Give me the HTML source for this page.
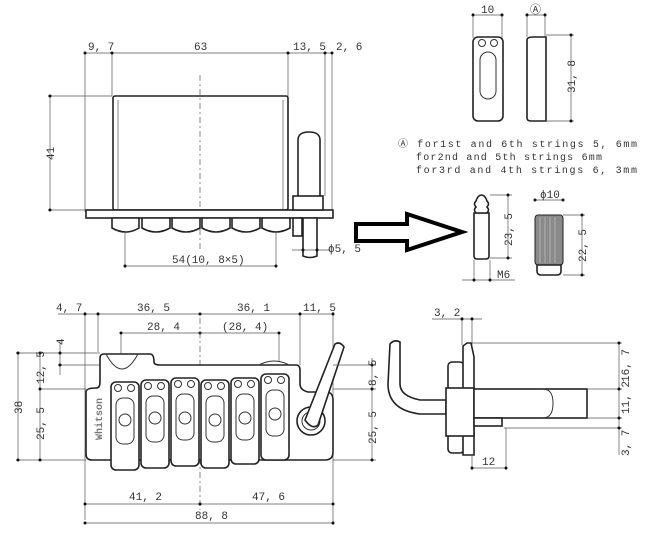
<!DOCTYPE html>
<html><head><meta charset="utf-8"><style>
html,body{margin:0;padding:0;background:#fff}
svg{display:block}
text{font-family:"Liberation Mono",monospace;font-size:11px;fill:#333}
.l{stroke:#333;stroke-width:1;fill:none}
.t{stroke:#555;stroke-width:.7;fill:none}
.b{stroke:#222;stroke-width:1.6;fill:#fff}
.d{fill:#111}
</style></head><body>
<svg width="646" height="539" viewBox="0 0 646 539">
<!-- TOP VIEW -->
<g>
<line class="t" x1="85" y1="53" x2="332" y2="53"/>
<line class="t" x1="85" y1="53" x2="85" y2="212"/>
<line class="t" x1="112" y1="53" x2="112" y2="96"/>
<line class="t" x1="288" y1="53" x2="288" y2="96"/>
<line class="t" x1="325" y1="53" x2="325" y2="196"/>
<line class="t" x1="332" y1="53" x2="332" y2="212"/>
<circle class="d" cx="85" cy="53" r="1.5"/><circle class="d" cx="112" cy="53" r="1.5"/><circle class="d" cx="288" cy="53" r="1.5"/><circle class="d" cx="325" cy="53" r="1.5"/><circle class="d" cx="332" cy="53" r="1.5"/>
<text x="88" y="50">9, 7</text><text x="194" y="50">63</text><text x="293" y="50">13, 5</text><text x="336" y="50">2, 6</text>
<line class="t" x1="50" y1="96" x2="50" y2="210"/><line class="t" x1="48" y1="96" x2="112" y2="96"/><line class="t" x1="48" y1="210" x2="85" y2="210"/>
<circle class="d" cx="50" cy="96" r="1.5"/><circle class="d" cx="50" cy="210" r="1.5"/>
<text x="0" y="0" transform="translate(54,160) rotate(-90)">41</text>
<rect class="b" x="113" y="96" width="175" height="114" rx="2"/>
<line class="t" x1="118" y1="100" x2="118" y2="210"/><line class="t" x1="283" y1="100" x2="283" y2="210"/>
<line class="t" x1="200" y1="75" x2="200" y2="252" stroke-dasharray="6,3,2,3"/>
<rect class="b" x="86" y="210" width="247" height="8"/>
<g class="b">
<path d="M112 218 h27 v10 q-13 8 -27 0z"/><path d="M142 218 h28 v10 q-14 8 -28 0z"/><path d="M172 218 h28 v10 q-14 8 -28 0z"/><path d="M202 218 h28 v10 q-14 8 -28 0z"/><path d="M232 218 h28 v10 q-14 8 -28 0z"/><path d="M262 218 h28 v10 q-14 8 -28 0z"/>
</g>
<path class="b" d="M298 200 V140 q0 -8 11 -8 q11 0 11 8 V200z"/>
<rect class="b" x="293" y="196" width="30" height="14"/>
<rect class="b" x="293" y="218" width="9" height="18"/>
<path class="b" d="M303 218 h14 v38 q-7 3 -14 0z"/>
<line class="t" x1="292" y1="250" x2="330" y2="250"/><circle class="d" cx="303" cy="250" r="1.5"/><circle class="d" cx="317" cy="250" r="1.5"/>
<text x="328" y="252">ϕ5, 5</text>
<line class="t" x1="125" y1="266" x2="276" y2="266"/><line class="t" x1="125" y1="232" x2="125" y2="268"/><line class="t" x1="276" y1="232" x2="276" y2="268"/>
<circle class="d" cx="125" cy="266" r="1.5"/><circle class="d" cx="276" cy="266" r="1.5"/>
<text x="172" y="263">54(10, 8×5)</text>
</g>
<!-- ARROW -->
<path d="M356 224 H407 V214 L462 232 L407 250 V241 H356z" fill="#fff" stroke="#000" stroke-width="4"/>
<!-- SADDLE parts -->
<g>
<line class="t" x1="473" y1="15" x2="502" y2="15"/><line class="t" x1="473" y1="13" x2="473" y2="38"/><line class="t" x1="502" y1="13" x2="502" y2="38"/>
<circle class="d" cx="473" cy="15" r="1.5"/><circle class="d" cx="502" cy="15" r="1.5"/>
<text x="481" y="13">10</text>
<rect class="b" x="473" y="37" width="30" height="84" rx="5"/>
<circle class="l" cx="482" cy="43" r="3.5"/><circle class="l" cx="494" cy="43" r="3.5"/>
<rect class="l" x="480" y="52" width="16" height="47" rx="8"/>
<line class="t" x1="527" y1="15" x2="545" y2="15"/><line class="t" x1="527" y1="13" x2="527" y2="37"/><line class="t" x1="545" y1="13" x2="545" y2="37"/>
<circle class="d" cx="527" cy="15" r="1.5"/><circle class="d" cx="545" cy="15" r="1.5"/>
<text x="530" y="13">Ⓐ</text>
<path class="b" d="M527 40 q0 -3 6 -3 H546 V121 H531 q-4 0 -4 -3z"/>
<line class="t" x1="546" y1="35" x2="574" y2="35"/><line class="t" x1="546" y1="121" x2="574" y2="121"/><line class="t" x1="571" y1="35" x2="571" y2="121"/>
<circle class="d" cx="571" cy="35" r="1.5"/><circle class="d" cx="571" cy="121" r="1.5"/>
<text x="0" y="0" transform="translate(575,93) rotate(-90)">31, 8</text>
<text x="398" y="147" style="font-size:10px" textLength="239" lengthAdjust="spacing">Ⓐ for1st and 6th strings 5, 6mm</text>
<text x="416" y="160" style="font-size:10px" textLength="186" lengthAdjust="spacing">for2nd and 5th strings 6mm</text>
<text x="416" y="173" style="font-size:10px" textLength="221" lengthAdjust="spacing">for3rd and 4th strings 6, 3mm</text>
<path class="b" d="M474 213 h15 v43 q0 3 -3 3 h-9 q-3 0 -3 -3z"/>
<path class="b" d="M476 213 q-3 -3 0 -6 q-3 -3 0 -6 q2 -6 5.5 -6 q3.5 0 5.5 6 q3 3 0 6 q3 3 0 6z"/>
<line class="t" x1="490" y1="195" x2="512" y2="195"/><line class="t" x1="490" y1="258" x2="512" y2="258"/><line class="t" x1="508" y1="195" x2="508" y2="258"/>
<circle class="d" cx="508" cy="195" r="1.5"/><circle class="d" cx="508" cy="258" r="1.5"/>
<text x="0" y="0" transform="translate(512,246) rotate(-90)">23, 5</text>
<line class="t" x1="462" y1="280" x2="515" y2="280"/><line class="t" x1="474" y1="260" x2="474" y2="282"/><line class="t" x1="490" y1="260" x2="490" y2="282"/>
<circle class="d" cx="474" cy="280" r="1.5"/><circle class="d" cx="490" cy="280" r="1.5"/>
<text x="497" y="278">M6</text>
<line class="t" x1="535" y1="200" x2="563" y2="200"/><circle class="d" cx="535" cy="200" r="1.5"/><circle class="d" cx="563" cy="200" r="1.5"/>
<text x="540" y="198">ϕ10</text>
<rect x="535" y="215" width="28" height="50" rx="3" fill="#8a8a8a" stroke="#222"/>
<g stroke="#bbb" stroke-width=".8"><line x1="540" y1="217" x2="540" y2="263"/><line x1="545" y1="217" x2="545" y2="263"/><line x1="550" y1="217" x2="550" y2="263"/><line x1="555" y1="217" x2="555" y2="263"/></g>
<path class="b" d="M537 265 h24 v6 q0 4 -4 4 h-16 q-4 0 -4 -4z"/>
<line class="t" x1="563" y1="215" x2="585" y2="215"/><line class="t" x1="563" y1="275" x2="585" y2="275"/><line class="t" x1="582" y1="215" x2="582" y2="275"/>
<circle class="d" cx="582" cy="215" r="1.5"/><circle class="d" cx="582" cy="275" r="1.5"/>
<text x="0" y="0" transform="translate(586,262) rotate(-90)">22, 5</text>
</g>
<!-- BOTTOM VIEW -->
<g>
<line class="t" x1="58" y1="314" x2="333" y2="314"/>
<line class="t" x1="85" y1="312" x2="85" y2="520"/><line class="t" x1="98" y1="312" x2="98" y2="352"/><line class="t" x1="300" y1="312" x2="300" y2="365"/><line class="t" x1="333" y1="312" x2="333" y2="525"/>
<circle class="d" cx="85" cy="314" r="1.5"/><circle class="d" cx="98" cy="314" r="1.5"/><circle class="d" cx="200" cy="314" r="1.5"/><circle class="d" cx="300" cy="314" r="1.5"/><circle class="d" cx="333" cy="314" r="1.5"/>
<text x="56" y="311">4, 7</text><text x="137" y="311">36, 5</text><text x="237" y="311">36, 1</text><text x="303" y="311">11, 5</text>
<line class="t" x1="121" y1="333" x2="279" y2="333"/><line class="t" x1="121" y1="333" x2="121" y2="362"/><line class="t" x1="279" y1="333" x2="279" y2="362"/>
<circle class="d" cx="121" cy="333" r="1.5"/><circle class="d" cx="200" cy="333" r="1.5"/><circle class="d" cx="279" cy="333" r="1.5"/>
<text x="147" y="330">28, 4</text><text x="222" y="330">(28, 4)</text>
<line class="t" x1="200" y1="318" x2="200" y2="510" stroke-dasharray="6,3,2,3"/>
<line class="t" x1="16" y1="353" x2="100" y2="353"/><line class="t" x1="40" y1="389" x2="86" y2="389"/><line class="t" x1="16" y1="460" x2="86" y2="460"/><line class="t" x1="58" y1="365" x2="150" y2="365"/>
<line class="t" x1="18" y1="353" x2="18" y2="460"/><line class="t" x1="40" y1="353" x2="40" y2="460"/><line class="t" x1="60" y1="340" x2="60" y2="375"/>
<circle class="d" cx="18" cy="353" r="1.5"/><circle class="d" cx="18" cy="460" r="1.5"/><circle class="d" cx="40" cy="353" r="1.5"/><circle class="d" cx="40" cy="389" r="1.5"/><circle class="d" cx="40" cy="460" r="1.5"/><circle class="d" cx="60" cy="353" r="1.5"/><circle class="d" cx="60" cy="365" r="1.5"/>
<text x="0" y="0" transform="translate(22,414) rotate(-90)">38</text>
<text x="0" y="0" transform="translate(44,384) rotate(-90)">12, 5</text>
<text x="0" y="0" transform="translate(44,440) rotate(-90)">25, 5</text>
<text x="0" y="0" transform="translate(64,345) rotate(-90)">4</text>
<path class="b" d="M86 392 q0 -4 10 -4 q4 0 4 -6 V358 q0 -4 4 -4 H150 q4 0 4 8 q0 3 6 3 H296 q4 0 4 5 V384 q0 6 8 8 H326 q7 0 7 8 V452 q0 8 -8 8 H92 q-6 0 -6 -6z"/>
<path class="l" d="M106 354 q16 30 32 0" />
<path class="l" d="M259 365 q15 -8 30 0"/>
<g class="b">
<rect x="111" y="382" width="28" height="88" rx="5"/><rect x="141" y="380" width="28" height="88" rx="5"/><rect x="171" y="378" width="28" height="88" rx="5"/><rect x="201" y="380" width="28" height="88" rx="5"/><rect x="231" y="378" width="28" height="86" rx="5"/><rect x="261" y="374" width="28" height="86" rx="5"/>
</g>
<g class="l">
<circle cx="118" cy="388" r="3.5"/><circle cx="131" cy="388" r="3.5"/><circle cx="148" cy="386" r="3.5"/><circle cx="161" cy="386" r="3.5"/><circle cx="178" cy="384" r="3.5"/><circle cx="191" cy="384" r="3.5"/><circle cx="208" cy="386" r="3.5"/><circle cx="221" cy="386" r="3.5"/><circle cx="238" cy="384" r="3.5"/><circle cx="251" cy="384" r="3.5"/><circle cx="268" cy="380" r="3.5"/><circle cx="281" cy="380" r="3.5"/>
<rect x="116" y="398" width="18" height="46" rx="7"/><rect x="146" y="396" width="18" height="46" rx="7"/><rect x="176" y="394" width="18" height="46" rx="7"/><rect x="206" y="396" width="18" height="46" rx="7"/><rect x="236" y="394" width="18" height="46" rx="7"/><rect x="266" y="390" width="18" height="46" rx="7"/>
<circle cx="125" cy="420" r="6"/><circle cx="155" cy="418" r="6"/><circle cx="185" cy="418" r="6"/><circle cx="215" cy="420" r="6"/><circle cx="245" cy="418" r="6"/><circle cx="275" cy="414" r="6"/>
</g>
<text x="0" y="0" transform="translate(102,440) rotate(-90)" style="font-size:10px;font-weight:bold;fill:#777">Whitson</text>
<circle class="b" cx="311" cy="421" r="14"/><circle class="l" cx="311" cy="421" r="9"/>
<path class="b" d="M305 420 L335 344 q5 -3 9 3 L318 425 q-6 5 -13 -5z"/>
<line class="t" x1="333" y1="365" x2="376" y2="365"/><line class="t" x1="333" y1="389" x2="376" y2="389"/><line class="t" x1="333" y1="460" x2="376" y2="460"/>
<line class="t" x1="372" y1="358" x2="372" y2="460"/>
<circle class="d" cx="372" cy="365" r="1.5"/><circle class="d" cx="372" cy="389" r="1.5"/><circle class="d" cx="372" cy="460" r="1.5"/>
<text x="0" y="0" transform="translate(376,386) rotate(-90)">8, 5</text>
<text x="0" y="0" transform="translate(376,444) rotate(-90)">25, 5</text>
<line class="t" x1="85" y1="504" x2="333" y2="504"/><line class="t" x1="85" y1="523" x2="333" y2="523"/>
<circle class="d" cx="85" cy="504" r="1.5"/><circle class="d" cx="200" cy="504" r="1.5"/><circle class="d" cx="333" cy="504" r="1.5"/><circle class="d" cx="85" cy="523" r="1.5"/><circle class="d" cx="333" cy="523" r="1.5"/>
<text x="129" y="500">41, 2</text><text x="252" y="500">47, 6</text><text x="195" y="519">88, 8</text>
</g>
<!-- SIDE VIEW -->
<g>
<line class="t" x1="432" y1="319" x2="482" y2="319"/><line class="t" x1="462" y1="317" x2="462" y2="345"/><line class="t" x1="472" y1="317" x2="472" y2="345"/>
<circle class="d" cx="462" cy="319" r="1.5"/><circle class="d" cx="472" cy="319" r="1.5"/>
<text x="434" y="316">3, 2</text>
<path class="b" d="M390 344 q4 -5 10 -2 V384 q0 12 20 16 H446 V414 H420 q-32 -4 -32 -30z"/>
<rect class="b" x="448" y="362" width="16" height="91" rx="4"/>
<path class="b" d="M463 346 l4 -3 h4 l3 14 V455 H463z"/>
<rect class="b" x="446" y="388" width="28" height="48"/>
<rect class="b" x="474" y="389" width="113" height="29"/>
<path class="l" d="M543 389 q10 0 10 14 q0 15 -10 15"/>
<rect class="b" x="474" y="418" width="28" height="8"/>
<line class="t" x1="472" y1="343" x2="622" y2="343"/><line class="t" x1="587" y1="389" x2="622" y2="389"/><line class="t" x1="587" y1="418" x2="622" y2="418"/><line class="t" x1="504" y1="428" x2="622" y2="428"/>
<line class="t" x1="619" y1="343" x2="619" y2="455"/>
<circle class="d" cx="619" cy="343" r="1.5"/><circle class="d" cx="619" cy="389" r="1.5"/><circle class="d" cx="619" cy="418" r="1.5"/><circle class="d" cx="619" cy="428" r="1.5"/>
<text x="0" y="0" transform="translate(629,382) rotate(-90)">16, 7</text>
<text x="0" y="0" transform="translate(629,414) rotate(-90)">11, 2</text>
<text x="0" y="0" transform="translate(629,456) rotate(-90)">3, 7</text>
<line class="t" x1="472" y1="468" x2="506" y2="468"/><line class="t" x1="506" y1="428" x2="506" y2="470"/>
<line class="t" x1="472" y1="455" x2="472" y2="470"/>
<circle class="d" cx="472" cy="468" r="1.5"/><circle class="d" cx="506" cy="468" r="1.5"/>
<text x="482" y="465">12</text>
</g>
</svg>
</body></html>
